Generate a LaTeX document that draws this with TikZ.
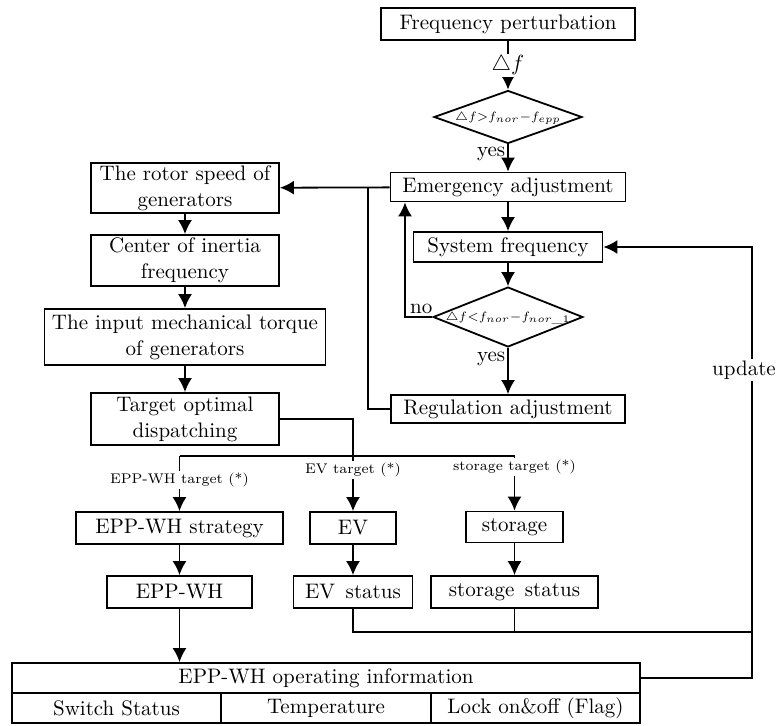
\documentclass[tikz,border=0pt]{standalone}
\usetikzlibrary{shapes.geometric,arrows.meta}

\begin{document}
\begin{tikzpicture}[x=.5pt,y=-.5pt,line width=.9pt,>={Latex[length=7pt,width=7pt]}]

        \useasboundingbox (0,0) rectangle (776,725);

        \begin{scope}[every node/.style={rectangle,draw,align=center,inner sep=0pt,font=\fontsize{10.5}{13}\selectfont}]
          \node[minimum width=127pt,minimum height=16pt]     (1)  at (508,24)    {Frequency perturbation};
          \node[minimum width=117.5pt,minimum height=14.5pt] (3)  at (508,187)   {Emergency adjustment};
          \node[minimum width=94.5pt,minimum height=15pt]    (4)  at (508,247)   {System frequency};
          \node[minimum width=117pt,minimum height=14pt]     (6)  at (508,409)   {Regulation adjustment};
          \node[minimum width=94pt,minimum height=25pt]      (7)  at (185,188)   {The rotor speed of\\generators};
          \node[minimum width=94pt,minimum height=25.5pt]    (8)  at (185,260.5) {Center of inertia\\frequency};
          \node[minimum width=140.5pt,minimum height=28pt]   (9)  at (185,337)   {The input mechanical torque\\of generators};
          \node[minimum width=94pt,minimum height=26pt]      (10) at (185,419)   {Target optimal\\dispatching};
          \node[minimum width=103.5pt,minimum height=16pt]   (11) at (179.5,528) {EPP-WH strategy};
          \node[minimum width=43pt,minimum height=16pt]      (12) at (353,528)   {EV};
          \node[minimum width=48.5pt,minimum height=15.5pt]  (13) at (514.5,527) {storage};
          \node[minimum width=72.5pt,minimum height=16pt]    (14) at (179.5,592) {EPP-WH};
          \node[minimum width=59.5pt,minimum height=16pt]    (15) at (353,592)   {EV\enspace status};
          \node[minimum width=83.5pt,minimum height=16pt]    (16) at (514.5,592) {storage\enspace status};
          \node[minimum width=314pt,minimum height=15pt]     (17) at (326,678)   {EPP-WH operating information};
          \node[minimum width=104.5pt,minimum height=15pt]   (18) at (116.5,708) {Switch Status};
          \node[minimum width=105pt,minimum height=15pt]     (19) at (326,708)   {Temperature};
          \node[minimum width=104.5pt,minimum height=15pt]   (20) at (535.5,708) {Lock on\&off (Flag)};
        \end{scope}

        \begin{scope}[every node/.style={diamond,draw,inner sep=0pt,text height=4pt,text depth=1pt,font=\fontsize{6.5}{8}\selectfont}]
          \node[aspect=2.8,minimum width=74pt,minimum height=26.5pt] (2) at (508,117) {$\triangle f{>}f_{nor}{-}f_{epp}$};
          \node[aspect=2.5,minimum width=71.5pt,minimum height=28pt] (5) at (508,317) {$\triangle f{<}f_{nor}{-}f_{nor\_1}$};
        \end{scope}

        \coordinate (a) at (368,187);
        \coordinate (n) at (405,0);
        \coordinate (s) at (353,456);
        \coordinate (r) at (752,0);
        \coordinate (b) at (752,632);

        \begin{scope}[every node/.style={font=\fontsize{10.5}{13}\selectfont}]
          \draw[->] (1) -- node[fill=white,inner sep=1pt] {$\triangle f$} (2);
          \draw[->] (2) -- node[left,pos=.35,inner sep=1pt] {yes} (3);
          \draw[->] (3) -- (4);
          \draw[->] (4) -- (5);
          \draw[->] (5) -- node[left,pos=.25,inner sep=1pt] {yes} (6);
          \draw[->] (5.west) -- node[above,pos=.4,inner sep=1pt] {no} (n |- 5) -- (n |- 3.south);
          \draw[->] (3) -- (7);
          \draw (6.west) -| (a);
          \draw[->] (7) -- (8);
          \draw[->] (8) -- (9);
          \draw[->] (9) -- (10);
          \draw[->] (11) -- (14);
          \draw[->] (12) -- (15);
          \draw[->] (13) -- (16);
          \draw[->] (14) -- (14 |- 17.north);
          \draw[->] (17.east) -| (r |- 4) -- (4);
          \path (r |- 4) -- node[fill=white,inner sep=1pt,pos=.285,xshift=-4pt] {update} (r |- 17);
          \draw (15) |- (b);
          \draw (16) -- (16 |- b);
        \end{scope}

        \begin{scope}[every node/.style={fill=white,inner sep=1pt,font=\scriptsize}]
          \draw (10.east) -| (s);
          \draw (11 |- s) -- (13 |- s);
          \draw[->] (11 |- s) -- node[pos=.43] {EPP-WH target (*)} (11);
          \draw[->] (s) -- node[pos=.25] {EV target (*)} (12);
          \draw[->] (13 |- s) -- node[pos=.21] {storage target (*)} (13);
        \end{scope}

      \end{tikzpicture}
\end{document}
